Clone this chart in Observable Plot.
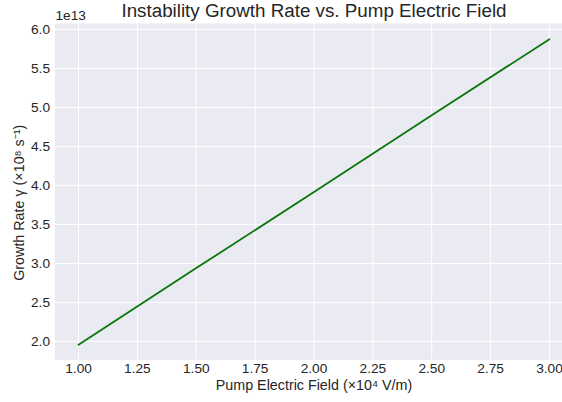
<!DOCTYPE html>
<html>
<head>
<meta charset="utf-8">
<script src="https://cdn.jsdelivr.net/npm/d3@7"></script>
<script src="https://cdn.jsdelivr.net/npm/@observablehq/plot@0.6"></script>
<style>
  html, body { margin: 0; padding: 0; background: #ffffff; overflow: hidden; }
  #chart svg { display: block; }
</style>
</head>
<body>
<div id="chart"></div>
<script>
// Data
const fieldValues = [1.0, 1.5, 2.0, 2.5, 3.0];               // ×10⁴ V/m
const growthRates = [1.958e13, 2.94e13, 3.915e13, 4.90e13, 5.875e13]; // s⁻¹
const xTicks = [1.0, 1.25, 1.5, 1.75, 2.0, 2.25, 2.5, 2.75, 3.0];
const yTicks = [2.0e13, 2.5e13, 3.0e13, 3.5e13, 4.0e13, 4.5e13, 5.0e13, 5.5e13, 6.0e13];

const titleText = "Instability Growth Rate vs. Pump Electric Field";
const xLabel = "Pump Electric Field (×10⁴ V/m)";
const yLabel = "Growth Rate γ (×10⁸ s⁻¹)";
const offsetText = "1e13";

const data = fieldValues.map((x, i) => ({x, y: growthRates[i]}));

const ink = "#262626";
const font = "'Liberation Sans', Arial, sans-serif";

const chart = Plot.plot({
  width: 562,
  height: 402,
  marginTop: 23,
  marginBottom: 42.5,
  marginLeft: 54.5,
  marginRight: -10.5,
  style: {background: "#ffffff", fontFamily: font, fontSize: "13.7px", color: ink, overflow: "hidden"},
  x: {domain: [0.9, 3.1], label: null},
  y: {domain: [1.762e13, 6.076e13], label: null},
  marks: [
    Plot.frame({fill: "#EAEAF2", stroke: null}),
    Plot.gridX(xTicks, {stroke: "#ffffff", strokeOpacity: 1, strokeWidth: 1}),
    Plot.gridY(yTicks, {stroke: "#ffffff", strokeOpacity: 1, strokeWidth: 1}),
    Plot.axisX(xTicks, {tickSize: 0, tickPadding: 3.5, tickFormat: d => d.toFixed(2), label: null, fill: ink, fontSize: 13.7}),
    Plot.axisY(yTicks, {tickSize: 0, tickPadding: 5, tickFormat: d => (d / 1e13).toFixed(1), label: null, fill: ink, fontSize: 13.7}),
    Plot.line(data, {x: "x", y: "y", stroke: "#0a760a", strokeWidth: 1.8}),
    Plot.text([titleText], {text: d => d, frameAnchor: "top", textAnchor: "middle", dy: -13, fontSize: 18.8, fill: ink, lineAnchor: "middle"}),
    Plot.text([offsetText], {text: d => d, frameAnchor: "top-left", textAnchor: "start", dx: 0.5, dy: -8, fontSize: 13.7, fill: ink, lineAnchor: "middle"}),
    Plot.text([xLabel], {text: d => d, frameAnchor: "bottom", textAnchor: "middle", dy: 25.5, fontSize: 14.3, fill: ink, lineAnchor: "middle"}),
    Plot.text([yLabel], {text: d => d, frameAnchor: "left", textAnchor: "middle", dx: -36, dy: 11, rotate: -90, fontSize: 14.3, fill: ink, lineAnchor: "middle"})
  ]
});

document.getElementById("chart").appendChild(chart);
</script>
</body>
</html>
